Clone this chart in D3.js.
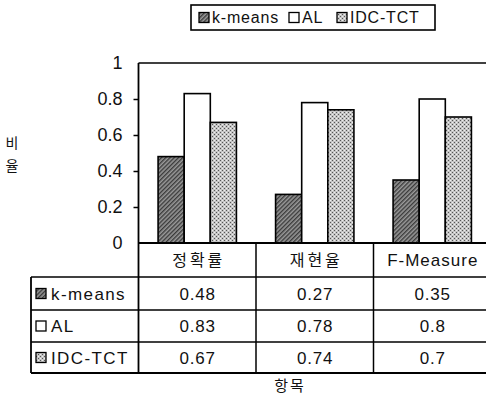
<!DOCTYPE html>
<html>
<head>
<meta charset="utf-8">
<script src="https://cdn.jsdelivr.net/npm/d3@7"></script>
<style>
  html, body { margin: 0; padding: 0; background: #fff; }
  svg { display: block; }
  text { font-family: "Liberation Sans", Arial, sans-serif; fill: #111; }
  .kr { font-family: "Noto Sans CJK KR", sans-serif; }
</style>
</head>
<body>
<svg id="chart" width="486" height="397"></svg>
<script>
// Categories, series and their values
const categories = ["정확률", "재현율", "F-Measure"];
const seriesNames = ["k-means", "AL", "IDC-TCT"];
const kmeans = [0.48, 0.27, 0.35];
const al = [0.83, 0.78, 0.8];
const idcTct = [0.67, 0.74, 0.7];
const yTicks = [0, 0.2, 0.4, 0.6, 0.8, 1];
const yTickLabels = ["0", "0.2", "0.4", "0.6", "0.8", "1"];
const yTitle = ["비", "율"];
const xTitle = "항목";

const seriesValues = [kmeans, al, idcTct];
const fills = ["url(#hatch)", "#ffffff", "url(#speckle)"];

const svg = d3.select("#chart");
const defs = svg.append("defs");

// Dark diagonal hatch for k-means
const hatch = defs.append("pattern")
  .attr("id", "hatch").attr("patternUnits", "userSpaceOnUse")
  .attr("width", 3).attr("height", 3)
  .attr("patternTransform", "rotate(45)");
hatch.append("rect").attr("width", 3).attr("height", 3).attr("fill", "#9a9a9a");
hatch.append("rect").attr("width", 1.4).attr("height", 3).attr("fill", "#3a3a3a");

// Light speckled fill for IDC-TCT
const speckle = defs.append("pattern")
  .attr("id", "speckle").attr("patternUnits", "userSpaceOnUse")
  .attr("width", 4).attr("height", 4);
speckle.append("rect").attr("width", 4).attr("height", 4).attr("fill", "#c4c4c4");
speckle.append("rect").attr("x", 0).attr("y", 0).attr("width", 1).attr("height", 1).attr("fill", "#555");
speckle.append("rect").attr("x", 2).attr("y", 2).attr("width", 1).attr("height", 1).attr("fill", "#555");
speckle.append("rect").attr("x", 2).attr("y", 0).attr("width", 1).attr("height", 1).attr("fill", "#eee");
speckle.append("rect").attr("x", 0).attr("y", 2).attr("width", 1).attr("height", 1).attr("fill", "#eee");

// Plot geometry
const plotLeft = 138.5, plotTop = 63, plotBottom = 243;
const colWidth = 117.5;
const plotRight = plotLeft + colWidth * categories.length;
const tableLeft = 31;
const rowH = [34, 33, 32, 31]; // header row, then one row per series

const x = d3.scaleBand().domain(categories).range([plotLeft, plotRight]);
const xInner = d3.scaleBand().domain(seriesNames)
  .range([0, x.bandwidth()]).paddingInner(0).paddingOuter(0.75);
const y = d3.scaleLinear().domain([0, 1]).range([plotBottom, plotTop]);

// Plot frame (top and left edges; the right edge runs off the page)
svg.append("line").attr("x1", plotLeft).attr("x2", plotRight)
  .attr("y1", plotTop).attr("y2", plotTop)
  .attr("stroke", "#000").attr("stroke-width", 1.6);

// Bars
categories.forEach((c, ci) => {
  seriesNames.forEach((s, si) => {
    const v = seriesValues[si][ci];
    svg.append("rect")
      .attr("x", x(c) + xInner(s))
      .attr("y", y(v))
      .attr("width", xInner.bandwidth())
      .attr("height", y(0) - y(v))
      .attr("fill", fills[si])
      .attr("stroke", "#000").attr("stroke-width", 1.6);
  });
});

// Y axis
const yAxis = d3.axisLeft(y).tickValues(yTicks)
  .tickFormat((d, i) => yTickLabels[i]).tickSize(5).tickPadding(11);
const yg = svg.append("g").attr("transform", `translate(${plotLeft},0)`).call(yAxis);
yg.select(".domain").remove();
yg.selectAll(".tick line").attr("stroke", "#000").attr("stroke-width", 1.5)
  .filter(d => d === 0 || d === 1).remove();
yg.selectAll(".tick text").attr("font-size", 18)
  .attr("font-family", "'Liberation Sans', Arial, sans-serif").attr("fill", "#111");

// Data table under the plot
const rowTops = [plotBottom];
rowH.forEach((h, i) => rowTops.push(rowTops[i] + h));
const tableBottom = rowTops[rowTops.length - 1];

const tg = svg.append("g");
tg.append("line").attr("x1", plotLeft).attr("x2", plotRight)
  .attr("y1", plotBottom).attr("y2", plotBottom)
  .attr("stroke", "#000").attr("stroke-width", 1.8);
for (let i = 1; i < rowTops.length; i++) {
  tg.append("line")
    .attr("x1", tableLeft).attr("x2", plotRight)
    .attr("y1", rowTops[i]).attr("y2", rowTops[i])
    .attr("stroke", "#000").attr("stroke-width", i === rowTops.length - 1 ? 1.8 : 1.3);
}
tg.append("line").attr("x1", tableLeft).attr("x2", tableLeft)
  .attr("y1", rowTops[1]).attr("y2", tableBottom)
  .attr("stroke", "#000").attr("stroke-width", 1.8);
tg.append("line").attr("x1", plotLeft).attr("x2", plotLeft)
  .attr("y1", plotTop).attr("y2", tableBottom)
  .attr("stroke", "#000").attr("stroke-width", 1.8);
categories.forEach((c, ci) => {
  if (ci === 0) return;
  tg.append("line").attr("x1", x(c)).attr("x2", x(c))
    .attr("y1", plotBottom).attr("y2", tableBottom)
    .attr("stroke", "#000").attr("stroke-width", 1.5);
});

// header row: category names
categories.forEach(c => {
  const isKr = /[가-힣]/.test(c);
  const ls = isKr ? 3 : 1;
  tg.append("text")
    .attr("class", isKr ? "kr" : null)
    .attr("x", x(c) + x.bandwidth() / 2 + ls / 2)
    .attr("y", rowTops[0] + rowH[0] / 2)
    .attr("dy", "0.36em")
    .attr("text-anchor", "middle")
    .attr("font-size", isKr ? 16 : 17)
    .attr("letter-spacing", ls)
    .text(c);
});

// series rows: key, name, values
seriesNames.forEach((s, si) => {
  const cy = rowTops[si + 1] + rowH[si + 1] / 2;
  tg.append("rect")
    .attr("x", tableLeft + 5).attr("y", cy - 5)
    .attr("width", 10).attr("height", 10)
    .attr("fill", fills[si]).attr("stroke", "#000").attr("stroke-width", 1.3);
  tg.append("text")
    .attr("x", tableLeft + 20).attr("y", cy).attr("dy", "0.36em")
    .attr("font-size", 17).attr("letter-spacing", 1.4).text(s);
  categories.forEach((c, ci) => {
    tg.append("text")
      .attr("x", x(c) + x.bandwidth() / 2 + 0.4).attr("y", cy).attr("dy", "0.36em")
      .attr("text-anchor", "middle").attr("font-size", 17).attr("letter-spacing", 0.8)
      .text(String(seriesValues[si][ci]));
  });
});

// Axis titles
yTitle.forEach((ch, i) => {
  svg.append("text").attr("class", "kr")
    .attr("x", 12).attr("y", 143 + i * 23).attr("dy", "0.36em")
    .attr("text-anchor", "middle").attr("font-size", 14).text(ch);
});
svg.append("text").attr("class", "kr")
  .attr("x", 290).attr("y", 386).attr("dy", "0.36em")
  .attr("text-anchor", "middle").attr("font-size", 15).attr("letter-spacing", 2)
  .text(xTitle);

// Legend: one key + label per series, laid out in a single row
const legend = svg.append("g");
const legendBox = { x: 191, y: 5, w: 244, h: 25 };
const legendItemOffsets = [0, 90, 138]; // key positions inside the box row
legend.append("rect")
  .attr("x", legendBox.x).attr("y", legendBox.y)
  .attr("width", legendBox.w).attr("height", legendBox.h)
  .attr("fill", "#fff").attr("stroke", "#000").attr("stroke-width", 1.6);
const ly = legendBox.y + legendBox.h / 2;
seriesNames.forEach((s, si) => {
  const lx = legendBox.x + 8 + legendItemOffsets[si];
  legend.append("rect")
    .attr("x", lx).attr("y", ly - 5).attr("width", 10).attr("height", 10)
    .attr("fill", fills[si]).attr("stroke", "#000").attr("stroke-width", 1.3);
  legend.append("text")
    .attr("x", lx + 13).attr("y", ly).attr("dy", "0.36em")
    .attr("font-size", 16).attr("letter-spacing", 0.8).text(s);
});
</script>
</body>
</html>
